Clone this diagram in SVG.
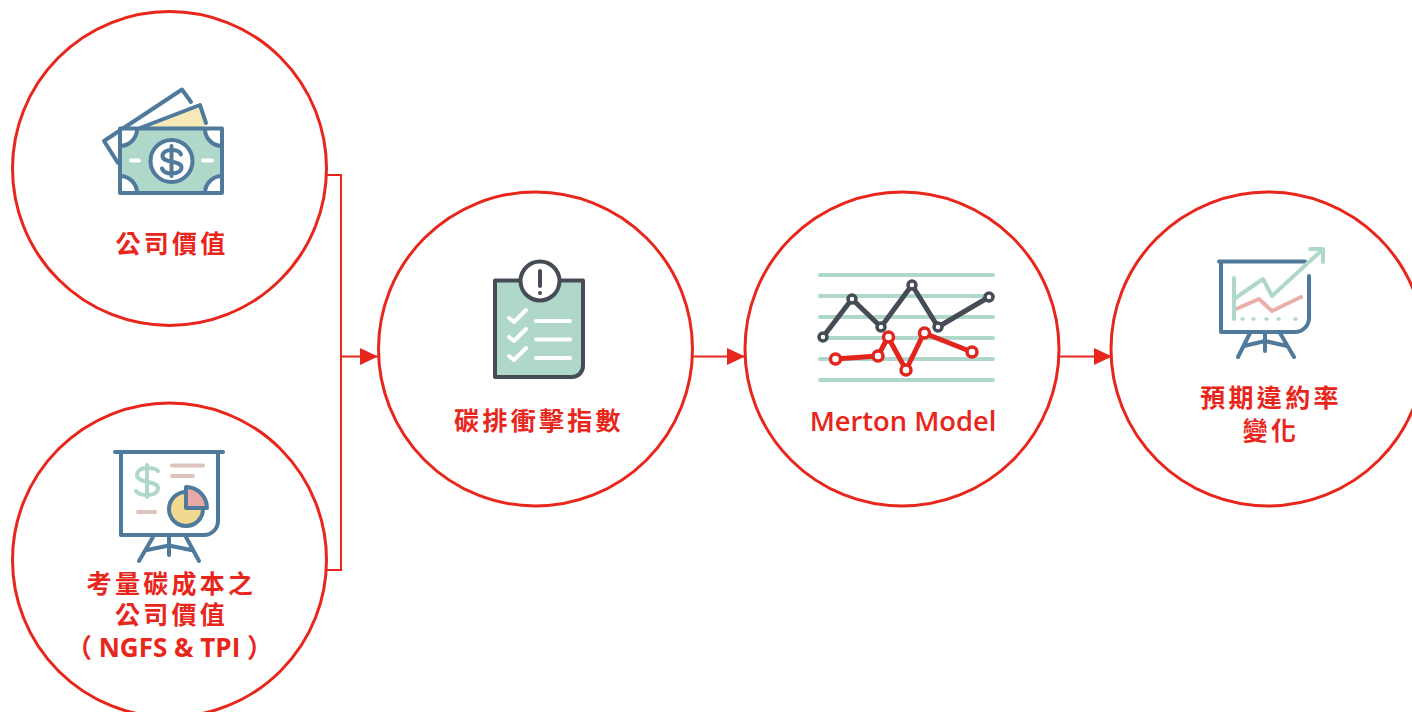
<svg xmlns="http://www.w3.org/2000/svg" width="1412" height="712" viewBox="0 0 1412 712">
<style>
.c{fill:#fff;stroke:#e8261c;stroke-width:3}
.w{fill:none;stroke:#e8261c;stroke-width:2}
.t{font-family:"Noto Sans CJK TC","Open Sans",sans-serif;font-weight:700;font-size:25px;letter-spacing:3.300px;fill:#e8261c;text-anchor:middle}
.m{font-family:"Open Sans","Noto Sans",sans-serif;font-weight:600;font-size:27.300px;fill:#e8261c;text-anchor:middle}
.n{font-family:"Open Sans","Noto Sans CJK TC",sans-serif;font-weight:700;font-size:26px;fill:#e8261c;text-anchor:middle}
.b{stroke:#4f7a9c;stroke-width:4;stroke-linecap:round;stroke-linejoin:round;fill:none}
.g{stroke:#afd8cb;stroke-width:4;stroke-linecap:round;stroke-linejoin:round;fill:none}
.p{stroke:#e9b0ab;stroke-width:4;stroke-linecap:round;stroke-linejoin:round;fill:none}
.r{stroke:#dcc4bd;stroke-width:4;stroke-linecap:round;fill:none}
.wl{stroke:#fff;stroke-width:4;stroke-linecap:round;stroke-linejoin:round;fill:none}
</style>
<defs>
<marker id="a" markerUnits="userSpaceOnUse" markerWidth="18" markerHeight="18" refX="18" refY="9" orient="auto"><path d="M0 0.500 L18 9 L0 17.500Z" fill="#e8261c"/></marker>
</defs>
<g id="connectors">
<path class="w" d="M327 175H341V570H327"/>
<path class="w" d="M341 356.500H378" marker-end="url(#a)"/>
<path class="w" d="M693 356.500H745" marker-end="url(#a)"/>
<path class="w" d="M1059 356.500H1112" marker-end="url(#a)"/>
</g>
<g id="node-value">
<circle class="c" cx="169.500" cy="168.500" r="157"/>
<path class="b" d="M118 163L104 141L182 89.500L191 102"/>
<path d="M140 128L200 105L206 128Z" fill="#f7eab8"/>
<path class="b" d="M140 128L200 105L206 123"/>
<rect x="120" y="128.500" width="102" height="64.500" fill="#afd8cb"/>
<path d="M120 128.500h17a17 17 0 0 1-17 17zM222 128.500h-17a17 17 0 0 0 17 17zM120 193h17a17 17 0 0 0-17-17zM222 193h-17a17 17 0 0 1 17-17z" fill="#fff"/>
<path class="b" d="M137 129a17 17 0 0 1-17 17M205 129a17 17 0 0 0 17 17M137 193a17 17 0 0 0-17-17M205 193a17 17 0 0 1 17-17"/>
<rect class="b" x="120" y="128.500" width="102" height="64.500"/>
<circle class="b" style="fill:#fff" cx="171.500" cy="161" r="21"/>
<path class="b" d="M181 154.500c-1-3-5-4.500-9.500-4.500c-5 0-9 2.500-9 6c0 8 19 3.500 19 11.500c0 3.500-4 6-9.500 6c-5 0-9-2-10-5M171.500 146v30"/>
<path class="wl" d="M131 160.500H139M203 160.500H212"/>
<text class="t" x="172" y="252.500">公司價值</text>
</g>
<g id="node-carbon-value">
<circle class="c" cx="169.500" cy="560" r="157"/>
<path class="b" d="M115 452H223"/>
<path class="b" d="M121 452V535H204a14 14 0 0 0 14-14V452"/>
<path class="b" d="M169 536V555M153 537L139 561M186 537L199 561M147 550L169 545.500L191 550"/>
<path class="g" d="M158 471c-2-2-5-3-9-3h-3c-5 0-9 3-9 7c0 9 21 5 21 13c0 4-4 7-9 7h-3c-4 0-8-1-10-4M147 465v32"/>
<path class="r" d="M172 465.500H203M172 476H193M138 512H155"/>
<circle cx="186" cy="509" r="17" fill="#f2d990" stroke="#4f7a9c" stroke-width="4"/>
<path d="M186 487a21 21 0 0 1 21 21H186Z" fill="#e9a9a6" stroke="#4f7a9c" stroke-width="4" stroke-linejoin="round"/>
<text class="t" x="171.500" y="592.500">考量碳成本之</text>
<text class="t" x="171.500" y="623.500">公司價值</text>
<text class="n" x="169.500" y="657">（ NGFS &amp; TPI ）</text>
</g>
<g id="node-index">
<circle class="c" cx="535.500" cy="349" r="157"/>
<path d="M495 280.500H583V366a11 11 0 0 1-11 11H495Z" fill="#afd8cb" stroke="#454c55" stroke-width="4" stroke-linejoin="round"/>
<circle cx="540" cy="281" r="19.500" fill="#fff" stroke="#454c55" stroke-width="4"/>
<path d="M540 271V286" stroke="#454c55" stroke-width="4" stroke-linecap="round"/>
<circle cx="540" cy="293" r="2" fill="#454c55"/>
<path class="wl" d="M509 318L514 322L526 310M509 337L514 341L526 329M509 356L514 360L526 348M536 321H570M536 339.500H570M536 358H570"/>
<text class="t" x="539" y="429.500">碳排衝擊指數</text>
</g>
<g id="node-merton">
<circle class="c" cx="902" cy="349" r="157"/>
<path class="g" d="M820 275H993M820 296H993M820 317H993M820 338H993M820 359H993M820 380H993"/>
<path d="M823 337L852 299L881 327L912 285L938 327L989 297" fill="none" stroke="#454c55" stroke-width="5" stroke-linejoin="round"/>
<g fill="#fff" stroke="#454c55" stroke-width="3.500"><circle cx="823" cy="337" r="4"/><circle cx="852" cy="299" r="4"/><circle cx="881" cy="327" r="4"/><circle cx="912" cy="285" r="4"/><circle cx="938" cy="327" r="4"/><circle cx="989" cy="297" r="4"/></g>
<path d="M835 359L878 356L888 337L906 370L924 333L972 352" fill="none" stroke="#e2251c" stroke-width="5" stroke-linejoin="round"/>
<g fill="#fff" stroke="#e2251c" stroke-width="3.500"><circle cx="835.500" cy="359" r="5"/><circle cx="878" cy="356" r="5"/><circle cx="888.500" cy="337" r="5"/><circle cx="906" cy="370" r="5"/><circle cx="924.500" cy="333" r="5"/><circle cx="972" cy="352" r="5"/></g>
<text class="m" x="903" y="431">Merton Model</text>
</g>
<g id="node-pd">
<circle class="c" cx="1268" cy="349" r="157"/>
<path class="b" d="M1219 261.500H1305M1309 276V318a14 14 0 0 1-14 14H1221V262"/>
<path class="b" d="M1265 333V351M1250 333L1238 357M1280 333L1294 357M1244 346L1265 341L1287 346"/>
<path class="p" d="M1236 309L1259 299L1272 311L1301 297"/>
<path class="g" d="M1234 278V319M1234 299L1263 279L1272 296L1322 250M1310 249H1323V262"/>
<path d="M1242 319h1M1253 319h1M1266 319h1M1278 319h1M1295 319h1" stroke="#afd8cb" stroke-width="3.500" stroke-linecap="round"/>
<text class="t" x="1271" y="406.500">預期違約率</text>
<text class="t" x="1271" y="439.500">變化</text>
</g>
</svg>
